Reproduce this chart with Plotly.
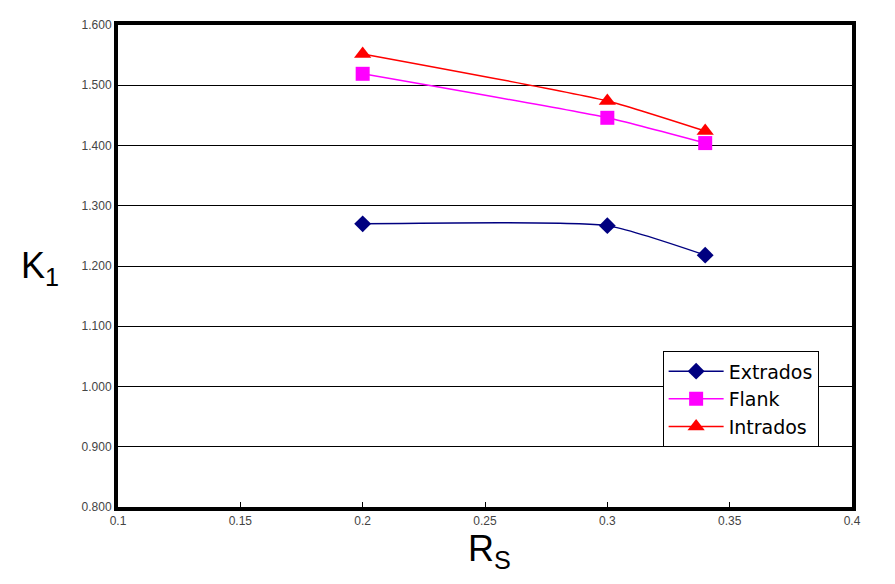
import plotly.graph_objects as go

rs = [0.2, 0.3, 0.34]
extrados = [1.270, 1.267, 1.218]
flank = [1.519, 1.446, 1.404]
intrados = [1.552, 1.474, 1.424]

x_ticks = [0.1, 0.15, 0.2, 0.25, 0.3, 0.35, 0.4]
y_ticks = [0.8, 0.9, 1.0, 1.1, 1.2, 1.3, 1.4, 1.5, 1.6]

fig = go.Figure()
fig.add_trace(go.Scatter(x=rs, y=extrados, name="Extrados", mode="lines+markers",
                         line=dict(color="#000080", width=1.5, shape="spline", smoothing=0.5),
                         marker=dict(symbol="diamond", size=13, color="#000080")))
fig.add_trace(go.Scatter(x=rs, y=flank, name="Flank", mode="lines+markers",
                         line=dict(color="#FF00FF", width=1.5, shape="spline", smoothing=0.5),
                         marker=dict(symbol="square", size=14, color="#FF00FF")))
fig.add_trace(go.Scatter(x=rs, y=intrados, name="Intrados", mode="lines+markers",
                         line=dict(color="#FF0000", width=1.5, shape="spline", smoothing=0.5),
                         marker=dict(symbol="triangle-up", size=15, color="#FF0000")))

font_family = "Liberation Sans, Arial, sans-serif"
fig.update_layout(
    width=887, height=576,
    margin=dict(l=110, r=43, t=17, b=77),
    paper_bgcolor="white", plot_bgcolor="white",
    font=dict(family=font_family, color="#333333"),
    showlegend=True,
    legend=dict(x=0.742, y=0.323, xanchor="left", yanchor="top",
                bordercolor="black", borderwidth=1, bgcolor="white",
                font=dict(size=19, color="black", family="DejaVu Sans, sans-serif"),
                tracegroupgap=0, itemwidth=55),
    xaxis=dict(range=[0.1, 0.4], tickvals=x_ticks,
               ticktext=[str(v) for v in x_ticks],
               showgrid=False, zeroline=False, automargin=False,
               showline=True, linecolor="black", linewidth=4, mirror=True,
               ticks="inside", ticklen=5, tickcolor="black",
               tickfont=dict(size=12, color="#444444")),
    yaxis=dict(range=[0.8, 1.6], tickvals=y_ticks,
               ticktext=["%.3f" % v for v in y_ticks],
               showgrid=True, gridcolor="black", gridwidth=1, zeroline=False,
               automargin=False,
               showline=True, linecolor="black", linewidth=4, mirror=True,
               ticks="", tickfont=dict(size=12, color="#444444")),
    annotations=[
        dict(text="K<sub>1</sub>", x=(40 - 118) / 734, y=(507 - 268) / 482,
             xref="paper", yref="paper", xanchor="center", yanchor="middle",
             showarrow=False, font=dict(size=36, color="black")),
        dict(text="R<sub>S</sub>", x=0.506, y=-0.04, xref="paper", yref="paper",
             xanchor="center", yanchor="top",
             showarrow=False, font=dict(size=36, color="black")),
    ],
)
fig.write_html("out.html")
